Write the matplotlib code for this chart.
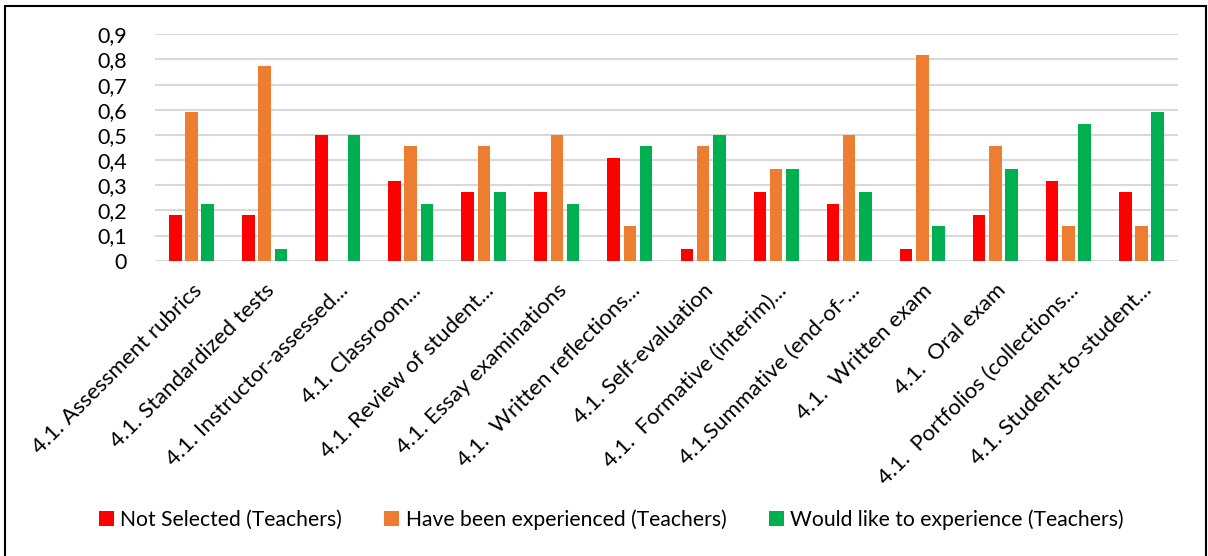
import matplotlib
matplotlib.use("Agg")
import matplotlib.pyplot as plt
import numpy as np
from matplotlib.patches import Rectangle

plt.rcParams['font.family'] = ['Lato', 'DejaVu Sans']

categories = [
    "4.1. Assessment rubrics",
    "4.1. Standardized tests",
    "4.1. Instructor-assessed...",
    "4.1. Classroom...",
    "4.1. Review of student...",
    "4.1. Essay examinations",
    "4.1.  Written reflections...",
    "4.1. Self-evaluation",
    "4.1.  Formative (interim)...",
    "4.1.Summative (end-of-...",
    "4.1.  Written exam",
    "4.1.  Oral exam",
    "4.1.  Portfolios (collections...",
    "4.1. Student-to-student...",
]

not_selected = [0.182, 0.182, 0.5, 0.318, 0.273, 0.273, 0.409, 0.045, 0.273, 0.227, 0.045, 0.182, 0.318, 0.273]
experienced = [0.591, 0.773, 0.0, 0.455, 0.455, 0.5, 0.136, 0.455, 0.364, 0.5, 0.818, 0.455, 0.136, 0.136]
would_like = [0.227, 0.045, 0.5, 0.227, 0.273, 0.227, 0.455, 0.5, 0.364, 0.273, 0.136, 0.364, 0.545, 0.591]

series_names = [
    "Not Selected (Teachers)",
    "Have been experienced (Teachers)",
    "Would like to experience (Teachers)",
]
colors = ["#FF0000", "#ED7D31", "#00B050"]
y_ticks = [0, 0.1, 0.2, 0.3, 0.4, 0.5, 0.6, 0.7, 0.8, 0.9]
y_tick_labels = ["0", "0,1", "0,2", "0,3", "0,4", "0,5", "0,6", "0,7", "0,8", "0,9"]

fig = plt.figure(figsize=(12.08, 5.56), dpi=100)
ax = fig.add_axes([0.1283, 0.5311, 0.8469, 0.4072])

x = np.arange(len(categories))
bar_w = 0.172
step = 0.222
for i, (vals, name, col) in enumerate(zip([not_selected, experienced, would_like], series_names, colors)):
    ax.bar(x + (i - 1) * step, vals, width=bar_w, color=col, label=name, zorder=3)

ax.set_xlim(-0.5, len(categories) - 0.5)
ax.set_ylim(0, 0.9)
ax.set_yticks(y_ticks)
ax.set_yticklabels(y_tick_labels, fontsize=15.5)
ax.yaxis.grid(True, color="#D9D9D9", linewidth=1.5, zorder=0)
ax.set_axisbelow(True)
ax.tick_params(axis='y', length=0, pad=20, labelcolor="#000000")
ax.tick_params(axis='x', length=0, pad=14)
ax.set_xticks(x)
ax.set_xticklabels(categories, rotation=45, ha='right', va='top',
                   rotation_mode='anchor', fontsize=16)
for s in ax.spines.values():
    s.set_visible(False)

leg = fig.legend(loc='center', bbox_to_anchor=(0.506, 0.065), ncol=3, frameon=False,
                 fontsize=15.2, handlelength=0.72, handleheight=0.72,
                 handletextpad=0.3, columnspacing=2.0)

# outer chart frame (bottom edge runs off the canvas)
fig.patches.append(Rectangle((5 / 1208, -0.05), 1201 / 1208, 1 - 6 / 556 + 0.05,
                             transform=fig.transFigure, fill=False,
                             edgecolor="black", linewidth=1.5))

fig.savefig("out.png", dpi=100)
